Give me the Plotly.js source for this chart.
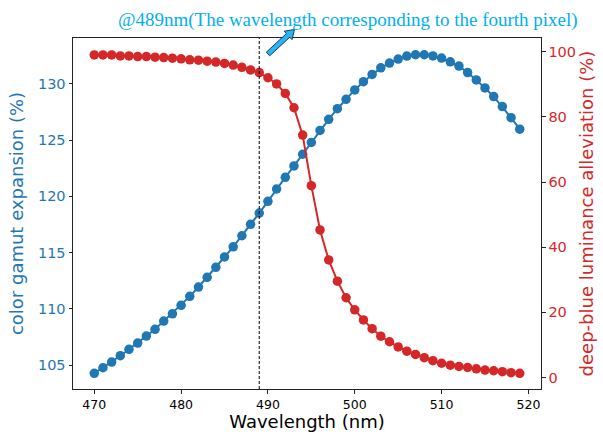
<!DOCTYPE html>
<html>
<head>
<meta charset="utf-8">
<script src="https://cdn.plot.ly/plotly-3.0.1.min.js"></script>
<style>html,body{margin:0;padding:0;background:#fff;}#chart{width:603px;height:432px;}</style>
</head>
<body>
<div id="chart"></div>
<script>
const wavelength = [470,471,472,473,474,475,476,477,478,479,480,481,482,483,484,485,486,487,488,489,490,491,492,493,494,495,496,497,498,499,500,501,502,503,504,505,506,507,508,509,510,511,512,513,514,515,516,517,518,519];
const gamutExpansion = [104.26,104.76,105.27,105.83,106.40,106.96,107.58,108.18,108.91,109.56,110.31,111.11,111.94,112.80,113.69,114.61,115.52,116.50,117.52,118.52,119.56,120.66,121.70,122.71,123.75,124.80,125.87,126.86,127.80,128.64,129.47,130.20,130.85,131.44,131.86,132.22,132.48,132.60,132.60,132.50,132.30,131.97,131.59,131.02,130.36,129.65,128.88,127.99,127.00,125.98];
const luminanceAlleviation = [99.0,99.0,99.0,98.7,98.7,98.5,98.5,98.3,98.2,98.0,97.8,97.5,97.4,97.1,96.8,96.4,95.9,95.2,94.4,93.6,92.0,90.1,87.2,82.8,74.4,58.9,45.3,36.1,29.6,24.5,20.8,17.7,15.0,12.7,11.0,9.4,8.1,7.1,6.1,5.2,4.4,3.8,3.4,3.1,2.7,2.3,2.1,1.8,1.5,1.3];
const markerWavelength = 489;
const annotationText = "@489nm(The wavelength corresponding to the fourth pixel)";

const W = 603, H = 432;
const M = {l:73, r:62, t:38, b:43};
const pw = W - M.l - M.r, ph = H - M.t - M.b;
function px(x){ return (x - M.l) / pw; }
function py(y){ return (H - M.b - y) / ph; }

// decorative block arrow (pixel-space polygon)
const arrowPts = [[266.3,52.2],[286.4,33.6],[284.2,31.2],[294.5,29.5],[292.0,39.6],[289.8,37.2],[269.7,55.8]];
const arrowPath = 'M ' + arrowPts.map(p => px(p[0]).toFixed(5) + ',' + py(p[1]).toFixed(5)).join(' L ') + ' Z';

const blue = '#1f77b4', red = '#d62728';

const data = [
  {x: wavelength, y: gamutExpansion, type: 'scatter', mode: 'lines+markers',
   line: {color: blue, width: 2}, marker: {color: blue, size: 9.5}, yaxis: 'y', showlegend: false},
  {x: wavelength, y: luminanceAlleviation, type: 'scatter', mode: 'lines+markers',
   line: {color: red, width: 2}, marker: {color: red, size: 9.5}, yaxis: 'y2', showlegend: false}
];

const layout = {
  width: W, height: H,
  margin: M,
  paper_bgcolor: '#fff', plot_bgcolor: '#fff',
  font: {family: 'DejaVu Sans', color: '#000'},
  xaxis: {
    range: [467.55, 521.45], tickvals: [470,480,490,500,510,520],
    showgrid: false, zeroline: false, showline: true, linecolor: '#222', linewidth: 1, mirror: true,
    ticks: 'outside', ticklen: 3.5, tickcolor: '#222', tickfont: {family: 'DejaVu Sans', size: 12.5, color: '#000'},
    title: {text: 'Wavelength (nm)', font: {family: 'DejaVu Sans', size: 18, color: '#000'}, standoff: 1}
  },
  yaxis: {
    range: [102.87, 134.09], tickvals: [105,110,115,120,125,130],
    showgrid: false, zeroline: false, showline: true, linecolor: '#222', linewidth: 1,
    ticks: 'outside', ticklen: 3.5, tickcolor: '#222', tickfont: {family: 'DejaVu Sans', size: 14.5, color: blue},
    title: {text: 'color gamut expansion (%)', font: {family: 'DejaVu Sans', size: 18, color: blue}, standoff: 9}
  },
  yaxis2: {
    range: [-3.5, 104.2], tickvals: [0,20,40,60,80,100], overlaying: 'y', side: 'right',
    showgrid: false, zeroline: false, showline: true, linecolor: '#222', linewidth: 1,
    ticks: 'outside', ticklen: 3.5, tickcolor: '#222', tickfont: {family: 'DejaVu Sans', size: 14.5, color: red},
    title: {text: 'deep-blue luminance alleviation (%)', font: {family: 'DejaVu Sans', size: 18, color: red}, standoff: 5}
  },
  shapes: [
    {type: 'line', xref: 'x', yref: 'paper', x0: markerWavelength, x1: markerWavelength, y0: 0, y1: 1,
     line: {color: '#000', width: 1, dash: '3px,2px'}},
    {type: 'path', xref: 'paper', yref: 'paper', path: arrowPath,
     fillcolor: '#29b6f6', line: {color: '#1a3a5c', width: 1}}
  ],
  annotations: [
    {text: annotationText, xref: 'paper', yref: 'paper', x: px(348), y: py(20),
     xanchor: 'center', yanchor: 'middle', showarrow: false,
     font: {family: 'Liberation Serif', size: 19, color: '#00b0f0'}}
  ]
};

Plotly.newPlot('chart', data, layout, {staticPlot: true, displayModeBar: false});
</script>
</body>
</html>
